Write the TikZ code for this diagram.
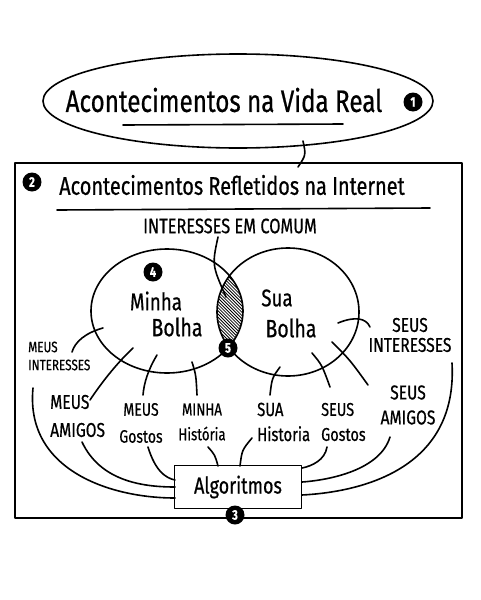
\documentclass[tikz,border=0pt]{standalone}
\usepackage{fontspec}
\setmainfont{Fira Sans}[FakeStretch=0.78,FakeBold=0.6]
\usetikzlibrary{shapes.geometric}
\newcommand{\fs}[2]{\fontsize{#1}{#2}\selectfont}
\begin{document}
\begin{tikzpicture}[x=1pt,y=-1pt,
  ink/.style={line width=1.6pt, line cap=round, line join=round},
  badge/.style={circle, fill=black, text=white, inner sep=0pt, minimum size=19pt, font=\fs{14}{14}\bfseries},
  lbl/.style={inner sep=0pt, align=center},
  bub/.style={ellipse, draw, line width=1.6pt, inner sep=0pt, outer sep=0pt}]
\useasboundingbox[fill=white] (0,0) rectangle (480,600);

% top ellipse
\node[bub, minimum width=390pt, minimum height=94pt] (real) at (238,101) {};
\node[lbl, font=\fs{31}{31}] (t1) at (224,100) {Acontecimentos na Vida Real};
\draw[ink] (123,125) -- (343,124);
\node[badge] (b1) at (413,102) {1};
\coordinate (j0) at (303,141);
\coordinate (j1) at (298,167);
\draw[ink] (j0) .. controls (306,155) .. (j1);

% frame
\node[draw, ink, minimum width=447pt, minimum height=355pt, inner sep=0pt] (inet) at (238.5,340.5) {};
\node[badge] (b2) at (32,182) {2};
\node[lbl, font=\fs{25.5}{25.5}] (t2) at (232,185) {Acontecimentos Refletidos na Internet};
\draw[ink] (57,210) -- (430,208);
\node[lbl, font=\fs{21}{21}] (ic) at (230,226) {INTERESSES EM COMUM};

% lens hatching
\begin{scope}
\clip (167,311) ellipse [x radius=76, y radius=62];
\clip (288,312) ellipse [x radius=71, y radius=64];
\foreach \k in {-30,...,30} \draw[line width=0.8pt] ({230+\k*3.2-40},270) -- ({230+\k*3.2+40},350);
\end{scope}

% bubbles
\node[bub, minimum width=152pt, minimum height=124pt] (lb) at (167,311) {};
\node[bub, minimum width=142pt, minimum height=128pt] (rb) at (288,312) {};
\coordinate (icb) at (218,237);
\coordinate (lens) at (226,297);
\draw[ink] (icb) .. controls (212,265) .. (lens);

\node[lbl, font=\fs{24}{24}] (mb1) at (156,301) {Minha};
\node[lbl, font=\fs{25}{25}] (mb2) at (177,327) {Bolha};
\node[lbl, font=\fs{24}{24}] (sb1) at (277,298) {Sua};
\node[lbl, font=\fs{25}{25}] (sb2) at (291,328) {Bolha};

\node[badge] (b4) at (153,272) {4};
\node[badge] (b5) at (228,348) {5};

% labels
\node[lbl, align=left, anchor=west, font=\fs{15}{18}] (mi) at (28,356) {MEUS\\INTERESSES};
\node[lbl, font=\fs{20}{20}] (si) at (410,335) {SEUS\\INTERESSES};
\node[lbl, align=left, anchor=west, font=\fs{20}{28}] (ma) at (50,416) {MEUS\\AMIGOS};
\node[lbl, font=\fs{18}{27}] (mg) at (141,423) {MEUS\\Gostos};
\node[lbl, font=\fs{17}{25}] (mh) at (202,422) {MINHA\\História};
\node[lbl, align=left, anchor=west, font=\fs{19}{25}] (sh) at (257,422) {SUA\\Historia};
\node[lbl, align=left, anchor=west, font=\fs{18.5}{25}] (sg) at (321,422) {SEUS\\Gostos};
\node[lbl, font=\fs{20}{25}] (sa) at (408,405) {SEUS\\AMIGOS};

% algoritmos
\node[draw, ink, minimum width=127pt, minimum height=43pt, inner sep=0pt, font=\fs{23}{23}] (alg) at (238,487) {Algoritmos};
\node[badge] (b3) at (235,515) {3};

% bubble connectors
\coordinate (p1) at (103,328); \coordinate (q1) at (72,352);
\coordinate (p2) at (133,348); \coordinate (q2) at (90,400);
\coordinate (p3) at (157,355); \coordinate (q3) at (143,395);
\coordinate (p4) at (192,362); \coordinate (q4) at (197,395);
\coordinate (p5) at (280,367); \coordinate (q5) at (270,395);
\coordinate (p6) at (312,353); \coordinate (q6) at (330,387);
\coordinate (p7) at (332,342); \coordinate (q7) at (368,385);
\coordinate (p8) at (338,323); \coordinate (q8) at (370,327);
\draw[ink] (p1) .. controls (85,333) and (75,342) .. (q1);
\draw[ink] (p2) .. controls (115,365) and (100,385) .. (q2);
\draw[ink] (p3) .. controls (148,370) and (144,383) .. (q3);
\draw[ink] (p4) .. controls (196,375) .. (q4);
\draw[ink] (p5) .. controls (272,378) .. (q5);
\draw[ink] (p6) .. controls (322,365) .. (q6);
\draw[ink] (p7) .. controls (350,360) .. (q7);
\draw[ink] (p8) .. controls (355,316) and (366,318) .. (q8);

% algorithm connectors
\coordinate (r1) at (33,388);  \coordinate (s1) at (175,498);
\coordinate (r2) at (82,442);  \coordinate (s2) at (175,487);
\coordinate (r3) at (148,447); \coordinate (s3) at (175,480);
\coordinate (r4) at (208,447); \coordinate (s4) at (218,466);
\coordinate (r5) at (252,438); \coordinate (s5) at (240,466);
\coordinate (r6) at (327,447); \coordinate (s6) at (302,468);
\coordinate (r7) at (390,437); \coordinate (s7) at (302,482);
\coordinate (r8) at (452,363); \coordinate (s8) at (302,495);
\draw[ink] (r1) .. controls (25,470) and (110,498) .. (s1);
\draw[ink] (r2) .. controls (100,480) and (140,487) .. (s2);
\draw[ink] (r3) .. controls (155,470) and (165,478) .. (s3);
\draw[ink] (r4) .. controls (215,455) .. (s4);
\draw[ink] (r5) .. controls (242,450) .. (s5);
\draw[ink] (r6) .. controls (325,460) and (312,466) .. (s6);
\draw[ink] (r7) .. controls (380,470) and (330,480) .. (s7);
\draw[ink] (r8) .. controls (458,470) and (360,492) .. (s8);
\end{tikzpicture}
\end{document}
